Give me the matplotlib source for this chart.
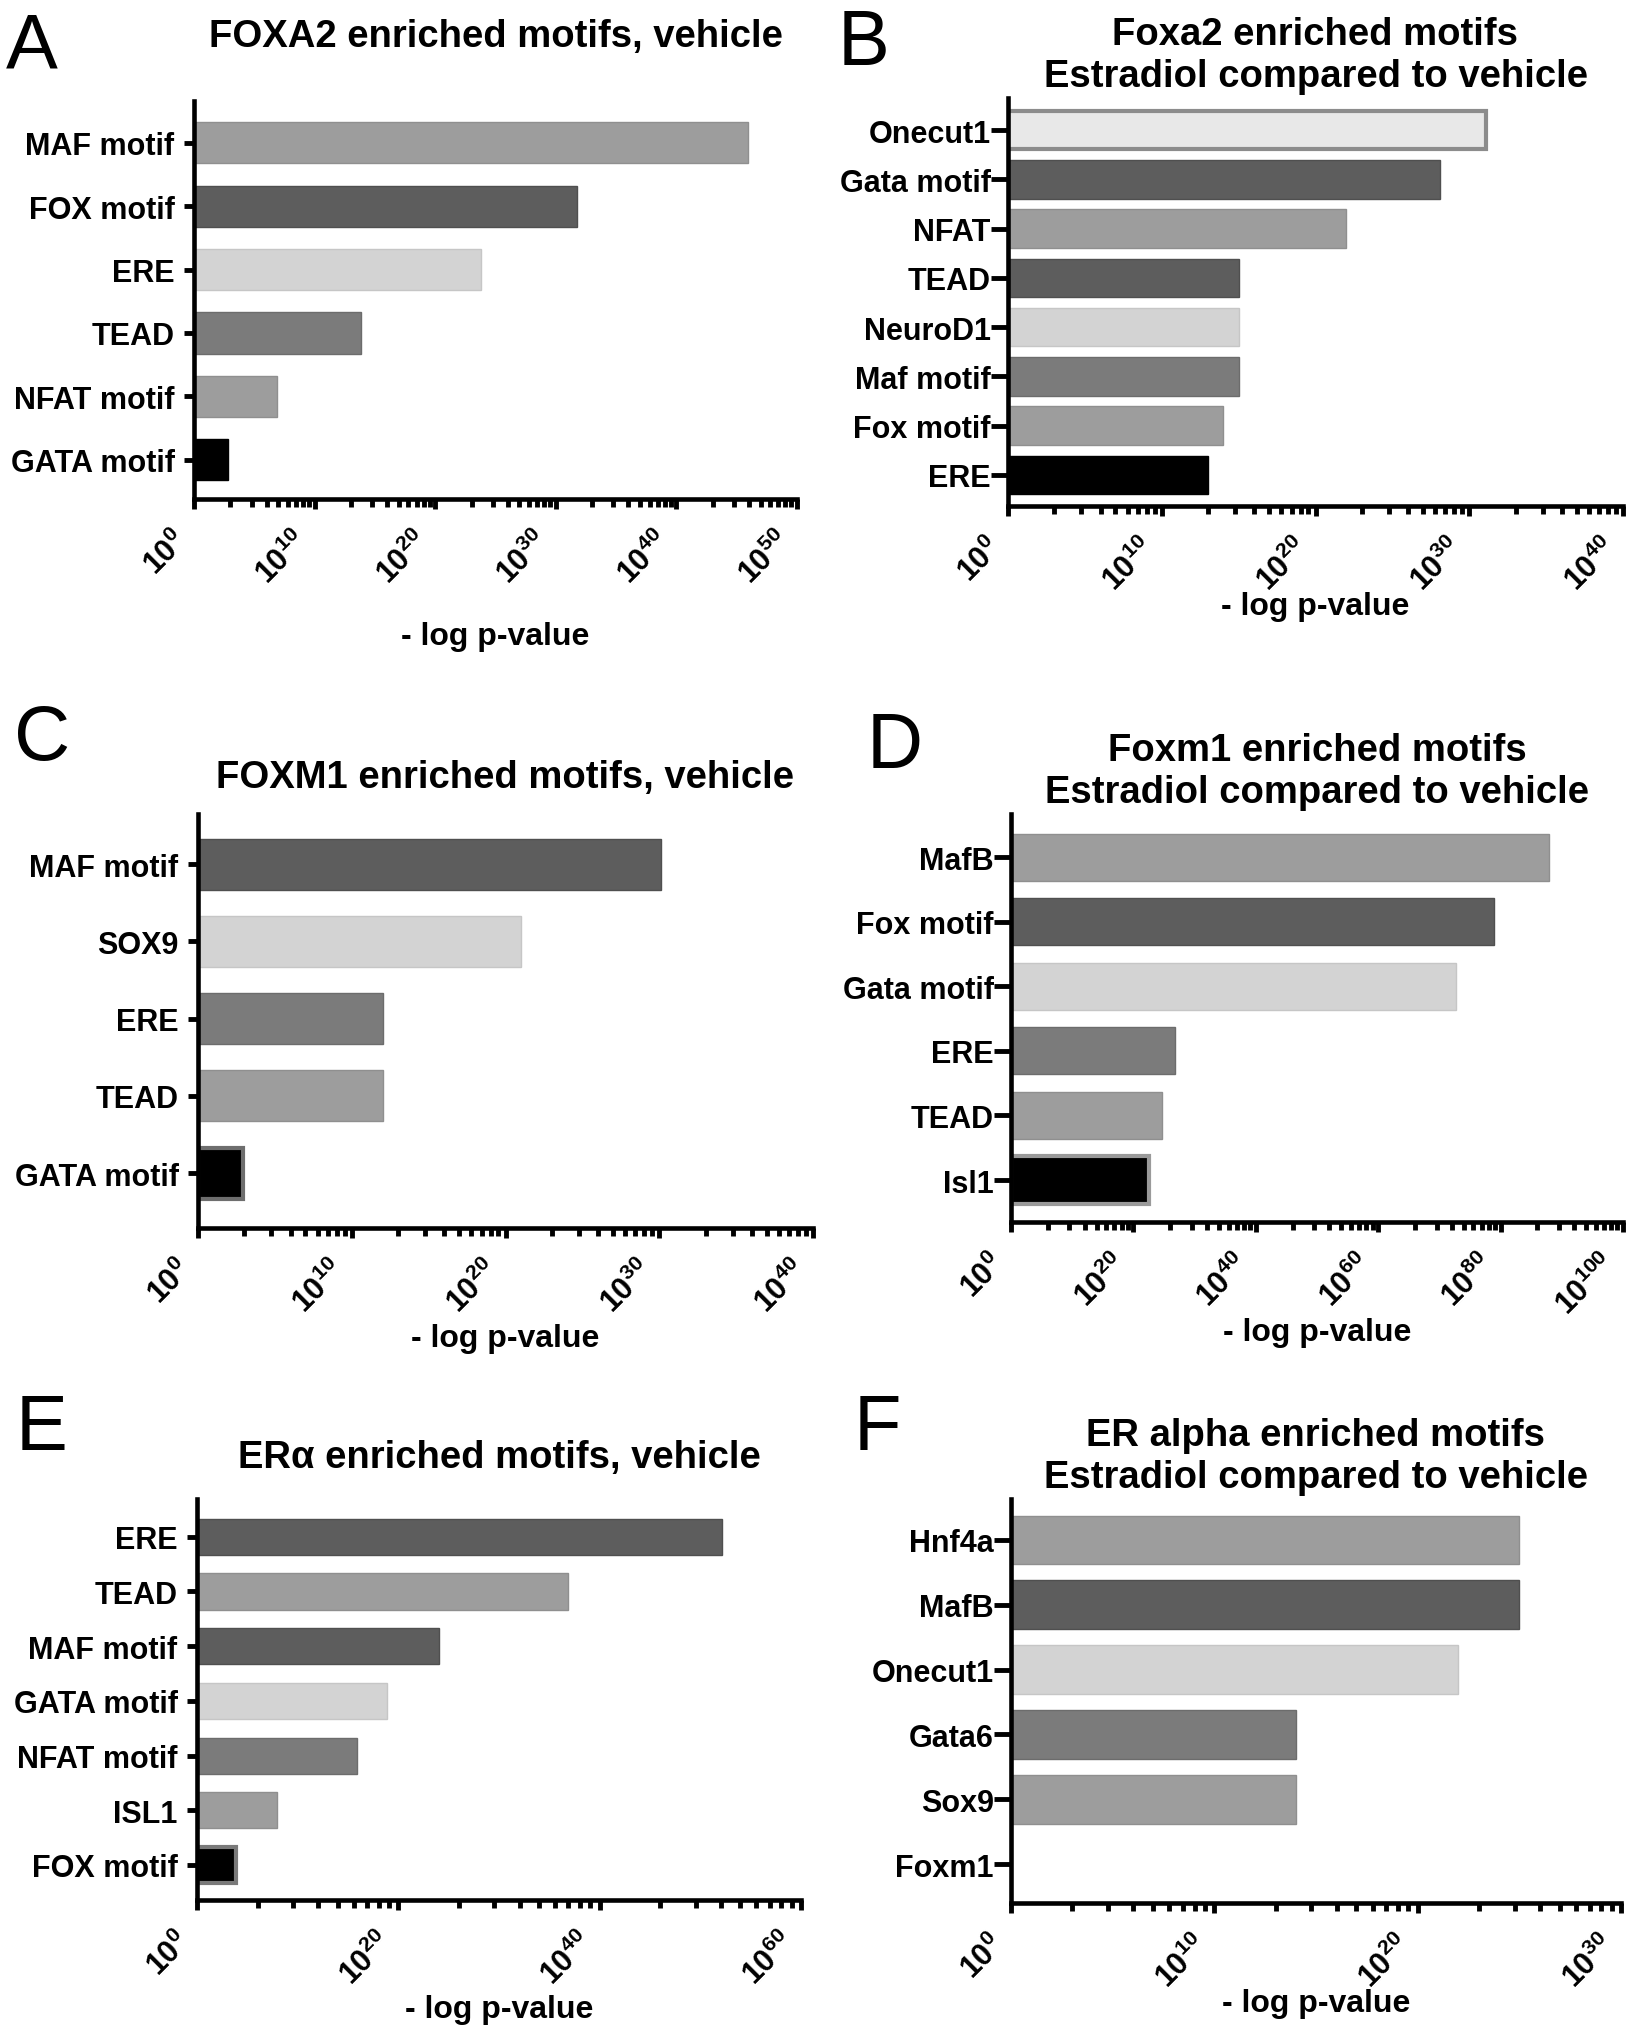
import numpy as np
import matplotlib
matplotlib.use('Agg')
import matplotlib.pyplot as plt
from matplotlib.ticker import FixedLocator, FuncFormatter

plt.rcParams['font.family'] = ['Liberation Sans', 'DejaVu Sans']
plt.rcParams['font.weight'] = 'bold'
plt.rcParams['mathtext.fontset'] = 'custom'
plt.rcParams['mathtext.rm'] = 'Liberation Sans:bold'
plt.rcParams['mathtext.it'] = 'Liberation Sans:bold'
plt.rcParams['mathtext.bf'] = 'Liberation Sans:bold'

# ---- data (enrichment p-value, read as 10^x) ----
a_motifs = ['MAF motif', 'FOX motif', 'ERE', 'TEAD', 'NFAT motif', 'GATA motif']
a_pvals = [8e45, 6e31, 6e23, 7e13, 7e6, 7e2]

b_motifs = ['Onecut1', 'Gata motif', 'NFAT', 'TEAD', 'NeuroD1', 'Maf motif', 'Fox motif', 'ERE']
b_pvals = [1.3e31, 1.3e28, 1e22, 1e15, 1e15, 1e15, 1e14, 1e13]

c_motifs = ['MAF motif', 'SOX9', 'ERE', 'TEAD', 'GATA motif']
c_pvals = [1.3e30, 1e21, 1e12, 1e12, 8e2]

d_motifs = ['MafB', 'Fox motif', 'Gata motif', 'ERE', 'TEAD', 'Isl1']
d_pvals = [8e87, 8e78, 6e72, 6e26, 5e24, 4e22]

e_motifs = ['ERE', 'TEAD', 'MAF motif', 'GATA motif', 'NFAT motif', 'ISL1', 'FOX motif']
e_pvals = [1.3e52, 8e36, 1e24, 8e18, 8e15, 8e7, 8e3]

f_motifs = ['Hnf4a', 'MafB', 'Onecut1', 'Gata6', 'Sox9', 'Foxm1']
f_pvals = [1e25, 1e25, 1e22, 1e14, 1e14, 1]

# ---- styles ----
L, D, V, M, K, P = '#9d9d9d', '#5d5d5d', '#d3d3d3', '#7b7b7b', '#000000', '#e8e8e8'
edge_of = {L: '#8f8f8f', D: '#4f4f4f', V: '#c6c6c6', M: '#6c6c6c', K: '#000000', P: '#8c8c8c'}

W, H = 1634, 2040
fig = plt.figure(figsize=(W / 100, H / 100), dpi=100)


def frame(x0, y0, x1, y1):
    return [x0 / W, 1 - y1 / H, (x1 - x0) / W, (y1 - y0) / H]


def panel(box, motifs, pvals, fills, special, step, top, bar_h, margins, ytick):
    ax = fig.add_axes(frame(*box))
    n = len(motifs)
    y = np.arange(n)
    v = np.array(pvals, dtype=float)
    edges = [edge_of[c] for c in fills]
    lws = [1.0] * n
    for i, ec in special.items():
        edges[i] = ec
        lws[i] = 3.0
    keep = v > 1
    ax.barh(y[keep], v[keep] - 1, left=1, height=bar_h,
            color=np.array(fills)[keep], edgecolor=np.array(edges)[keep],
            linewidth=np.array(lws)[keep])
    ax.set_xscale('log')
    ax.set_xlim(1, 10.0 ** top)
    ax.set_ylim(n - 1 + margins[1], -margins[0])
    ax.set_yticks(y)
    ax.set_yticklabels(motifs)

    majors = [10.0 ** e for e in range(0, top + 1, step)]
    minors = [10.0 ** (k + step * np.log10(m)) for k in range(0, top, step) for m in range(2, 10)]
    ax.xaxis.set_major_locator(FixedLocator(majors))
    ax.xaxis.set_minor_locator(FixedLocator(minors))
    ax.xaxis.set_major_formatter(FuncFormatter(lambda val, pos: f'$10^{{{int(round(np.log10(val)))}}}$'))
    ax.xaxis.set_minor_formatter(FuncFormatter(lambda val, pos: ''))

    for s in ['top', 'right']:
        ax.spines[s].set_visible(False)
    for s in ['left', 'bottom']:
        ax.spines[s].set_linewidth(3.3)
    ax.tick_params(axis='x', which='major', length=7, width=3.5, labelsize=22, pad=12)
    ax.tick_params(axis='x', which='minor', length=6, width=3.5)
    ax.tick_params(axis='y', length=ytick[0], width=3.5, pad=ytick[1], labelsize=22)
    for lab in ax.get_xticklabels():
        lab.set_rotation(45)
        lab.set_ha('right')
        lab.set_va('top')
        lab.set_rotation_mode('default')
    return ax


def texts(box, letter, letter_xy, title, title_y, xlabel_y):
    cx = (box[0] + box[2]) / 2 / W
    fig.text(letter_xy[0] / W, 1 - letter_xy[1] / H, letter, fontsize=56,
             fontweight='normal', ha='left', va='top')
    fig.text(cx, 1 - title_y / H, title, fontsize=27.5, fontweight='bold',
             ha='center', va='center', linespacing=1.23)
    fig.text(cx, 1 - xlabel_y / H, '- log p-value', fontsize=23, fontweight='bold',
             ha='center', va='center')


# panel A
box_a = (194, 102, 797, 500)
panel(box_a, a_motifs, a_pvals, [L, D, V, M, L, K], {}, 10, 50, 0.65, (0.66, 0.62), (7, 7))
texts(box_a, 'A', (6, 12), 'FOXA2 enriched motifs, vehicle', 37, 637)

# panel B
box_b = (1008, 99, 1623, 507)
panel(box_b, b_motifs, b_pvals, [P, D, L, D, V, M, L, K], {0: '#8c8c8c'}, 10, 40, 0.78, (0.65, 0.63), (12, 0.5))
texts(box_b, 'B', (838, 8), 'Foxa2 enriched motifs\nEstradiol compared to vehicle', 56, 607)

# panel C
box_c = (198, 815, 813, 1229)
panel(box_c, c_motifs, c_pvals, [D, V, M, L, K], {4: '#6e6e6e'}, 10, 40, 0.66, (0.65, 0.71), (7, 7))
texts(box_c, 'C', (14, 703), 'FOXM1 enriched motifs, vehicle', 778, 1339)

# panel D
box_d = (1011, 815, 1623, 1223)
panel(box_d, d_motifs, d_pvals, [L, D, V, M, L, K], {5: '#9a9a9a'}, 20, 100, 0.73, (0.67, 0.65), (12, 0.5))
texts(box_d, 'D', (867, 711), 'Foxm1 enriched motifs\nEstradiol compared to vehicle', 772, 1333)

# panel E
box_e = (197, 1500, 801, 1901)
panel(box_e, e_motifs, e_pvals, [D, L, D, V, M, L, K], {6: '#7a7a7a'}, 20, 60, 0.66, (0.69, 0.64), (7, 7))
texts(box_e, 'E', (16, 1393), 'ER\u03b1 enriched motifs, vehicle', 1458, 2010)

# panel F
box_f = (1011, 1500, 1621, 1904)
panel(box_f, f_motifs, f_pvals, [L, D, V, M, L, K], {}, 10, 30, 0.75, (0.63, 0.60), (12, 0.5))
texts(box_f, 'F', (854, 1393), 'ER alpha enriched motifs\nEstradiol compared to vehicle', 1457, 2004)

fig.savefig('out.png', dpi=100, facecolor='white')
